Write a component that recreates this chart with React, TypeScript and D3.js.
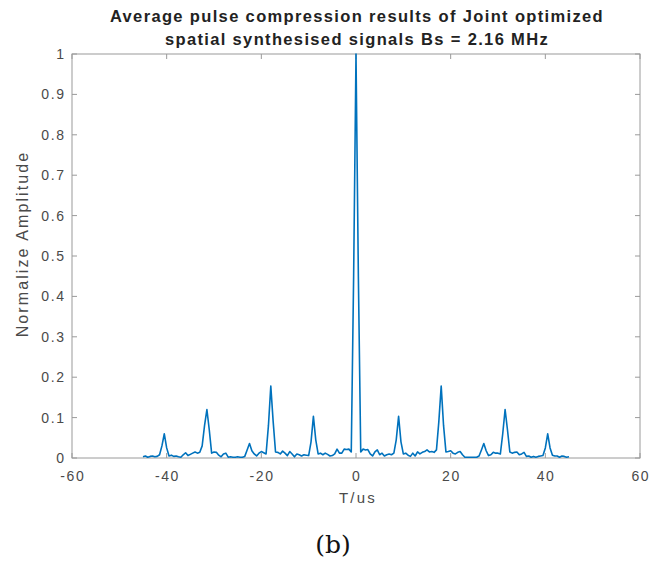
import React from "react";
import * as d3 from "d3";

const TITLE_LINES = [
  "Average pulse compression results of Joint optimized",
  "spatial synthesised signals Bs = 2.16 MHz",
];
const X_LABEL = "T/us";
const Y_LABEL = "Normalize Amplitude";
const CAPTION = "(b)";
const X_TICKS = [-60, -40, -20, 0, 20, 40, 60];
const Y_TICKS = [0, 0.1, 0.2, 0.3, 0.4, 0.5, 0.6, 0.7, 0.8, 0.9, 1];
const X_DOMAIN: [number, number] = [-60, 60];
const Y_DOMAIN: [number, number] = [0, 1];

// sample grid: -45 .. 45 us, 0.5 us apart
const T_START = -45;
const T_STEP = 0.5;

// amplitude values, 10 samples per row (5 us)
const AMPLITUDE = [
  // -45 .. -40.5
  0.003, 0.005, 0.002, 0.004, 0.005, 0.003, 0.004, 0.008, 0.03, 0.06,
  // -40 .. -35.5
  0.025, 0.005, 0.007, 0.004, 0.005, 0.003, 0.002, 0.008, 0.013, 0.006,
  // -35 .. -30.5
  0.009, 0.012, 0.015, 0.012, 0.014, 0.03, 0.08, 0.12, 0.07, 0.012,
  // -30 .. -25.5
  0.015, 0.014, 0.007, 0.003, 0.01, 0.012, 0.002, 0.003, 0.002, 0.002,
  // -25 .. -20.5
  0.003, 0.002, 0.002, 0.004, 0.02, 0.036, 0.018, 0.01, 0.005, 0.012,
  // -20 .. -15.5
  0.016, 0.013, 0.01, 0.08, 0.178, 0.09, 0.015, 0.014, 0.01, 0.017,
  // -15 .. -10.5
  0.012, 0.006, 0.016, 0.01, 0.003, 0.01, 0.008, 0.005, 0.008, 0.007,
  // -10 .. -5.5
  0.006, 0.04, 0.103, 0.045, 0.01, 0.012, 0.008, 0.012, 0.009, 0.005,
  // -5 .. -0.5
  0.006, 0.01, 0.022, 0.012, 0.012, 0.022, 0.021, 0.022, 0.015, 0.45,
  // 0 .. 4.5
  1.0, 0.45, 0.015, 0.022, 0.02, 0.021, 0.01, 0.005, 0.015, 0.02,
  // 5 .. 9.5
  0.008, 0.012, 0.005, 0.008, 0.01, 0.008, 0.012, 0.045, 0.103, 0.04,
  // 10 .. 14.5
  0.01, 0.012, 0.007, 0.004, 0.012, 0.005, 0.015, 0.01, 0.014, 0.016,
  // 15 .. 19.5
  0.02, 0.015, 0.016, 0.014, 0.02, 0.09, 0.178, 0.08, 0.015, 0.016,
  // 20 .. 24.5
  0.018, 0.012, 0.01, 0.014, 0.016, 0.008, 0.002, 0.002, 0.002, 0.002,
  // 25 .. 29.5
  0.002, 0.002, 0.005, 0.02, 0.036, 0.018, 0.006, 0.008, 0.014, 0.012,
  // 30 .. 34.5
  0.012, 0.01, 0.06, 0.12, 0.07, 0.015, 0.012, 0.014, 0.015, 0.008,
  // 35 .. 39.5
  0.01, 0.014, 0.004, 0.005, 0.002, 0.004, 0.002, 0.004, 0.005, 0.006,
  // 40 .. 44.5
  0.025, 0.06, 0.025, 0.007, 0.005, 0.005, 0.002, 0.005, 0.004, 0.002,
  // 45
  0.003,
];

const W = 666;
const H = 564;
const M = { left: 72, right: 26, top: 54, bottom: 106 };

export default function App() {
  const pw = W - M.left - M.right;
  const ph = H - M.top - M.bottom;
  const x = d3.scaleLinear().domain(X_DOMAIN).range([M.left, M.left + pw]);
  const y = d3.scaleLinear().domain(Y_DOMAIN).range([M.top + ph, M.top]);

  const pts: [number, number][] = AMPLITUDE.map((v, i) => [T_START + i * T_STEP, v]);
  const line = d3
    .line<[number, number]>()
    .x((d) => x(d[0]))
    .y((d) => y(d[1]));

  const axisColor = "#9a9a9a";
  const textColor = "#4a4a4a";
  const font = "'Liberation Sans', Arial, sans-serif";
  const tick = 5;
  const x0 = M.left;
  const x1 = M.left + pw;
  const y0 = M.top + ph;
  const y1 = M.top;
  const tickLS = 1.6;

  return (
    <svg
      width={W}
      height={H}
      style={{ position: "absolute", left: 0, top: 0, background: "#fff" }}
      fontFamily={font}
    >
      <rect x={0} y={0} width={W} height={H} fill="#fff" />
      {/* title */}
      {TITLE_LINES.map((t, i) => (
        <text
          key={i}
          x={357}
          y={22 + i * 23}
          textAnchor="middle"
          fontSize={16.5}
          fontWeight="bold"
          letterSpacing={1.35}
          fill="#222"
        >
          {t}
        </text>
      ))}
      {/* box */}
      <rect x={x0} y={y1} width={pw} height={ph} fill="none" stroke={axisColor} strokeWidth={1} />
      {/* x ticks */}
      {X_TICKS.map((t) => (
        <g key={"x" + t}>
          <line x1={x(t)} x2={x(t)} y1={y0} y2={y0 - tick} stroke={axisColor} />
          <line x1={x(t)} x2={x(t)} y1={y1} y2={y1 + tick} stroke={axisColor} />
          <text
            x={x(t) + tickLS / 2}
            y={y0 + 23}
            textAnchor="middle"
            fontSize={14}
            letterSpacing={tickLS}
            fill={textColor}
          >
            {t}
          </text>
        </g>
      ))}
      {/* y ticks */}
      {Y_TICKS.map((t) => (
        <g key={"y" + t}>
          <line x1={x0} x2={x0 + tick} y1={y(t)} y2={y(t)} stroke={axisColor} />
          <line x1={x1} x2={x1 - tick} y1={y(t)} y2={y(t)} stroke={axisColor} />
          <text
            x={x0 - 8 + tickLS}
            y={y(t) + 5}
            textAnchor="end"
            fontSize={14}
            letterSpacing={tickLS}
            fill={textColor}
          >
            {d3.format("~g")(t)}
          </text>
        </g>
      ))}
      {/* data line */}
      <path d={line(pts) || ""} fill="none" stroke="#0072BD" strokeWidth={1.6} strokeLinejoin="round" />
      {/* axis labels */}
      <text x={358} y={503} textAnchor="middle" fontSize={15} letterSpacing={2.2} fill={textColor}>
        {X_LABEL}
      </text>
      <text
        transform={`translate(28,244) rotate(-90)`}
        textAnchor="middle"
        fontSize={16}
        letterSpacing={2.1}
        fill={textColor}
      >
        {Y_LABEL}
      </text>
      <text
        x={333}
        y={553}
        textAnchor="middle"
        fontSize={25}
        fontFamily="'DejaVu Serif', 'Liberation Serif', serif"
        fill="#111"
      >
        {CAPTION}
      </text>
    </svg>
  );
}
